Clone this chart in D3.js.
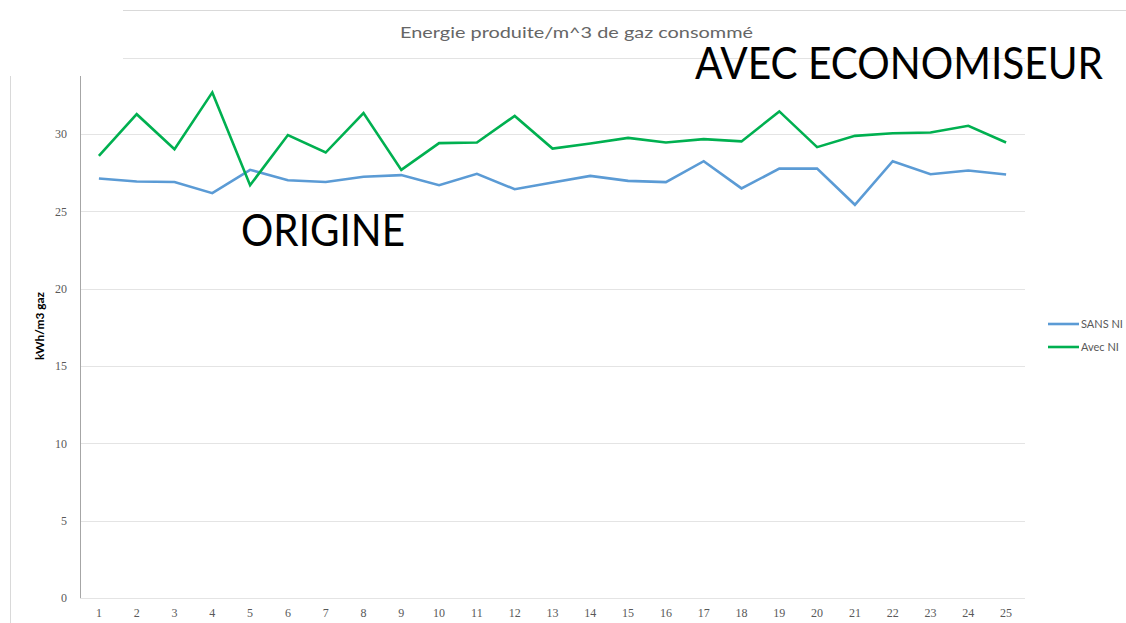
<!DOCTYPE html>
<html>
<head>
<meta charset="utf-8">
<script src="https://cdn.jsdelivr.net/npm/d3@7"></script>
<style>
  html, body { margin: 0; padding: 0; background: #fff; }
  svg { display: block; }
</style>
</head>
<body>
<svg id="chart" width="1126" height="623"></svg>
<script>
const categories = ["1","2","3","4","5","6","7","8","9","10","11","12","13","14","15","16","17","18","19","20","21","22","23","24","25"];
const sansNI = [27.13,26.94,26.90,26.18,27.69,27.02,26.90,27.24,27.35,26.70,27.43,26.44,26.87,27.30,26.98,26.90,28.25,26.49,27.77,27.77,25.43,28.25,27.41,27.65,27.39];
const avecNI = [28.60,31.29,29.03,32.70,26.70,29.94,28.81,31.36,27.69,29.42,29.46,31.18,29.07,29.40,29.76,29.46,29.68,29.53,31.47,29.16,29.89,30.06,30.11,30.54,29.46];
const yTicks = [0,5,10,15,20,25,30];
const seriesNames = ["SANS NI","Avec NI"];
const seriesColors = ["#5b9bd5","#00b050"];
const titleText = "Energie produite/m^3 de gaz consommé";
const yTitle = "kWh/m3 gaz";

(function(){
const svg = d3.select("#chart");
const pLeft = 80, pRight = 1025, pTop = 76, pBottom = 598;

const x = d3.scaleBand().domain(categories).range([pLeft, pRight]).padding(0);
const y = d3.scaleLinear().domain([0, 33.76]).range([pBottom, pTop]);

// outer decorative lines
svg.append("line").attr("x1",123).attr("x2",1126).attr("y1",10.5).attr("y2",10.5).attr("stroke","#d9d9d9").attr("stroke-width",1);
svg.append("line").attr("x1",123).attr("x2",1025).attr("y1",58.5).attr("y2",58.5).attr("stroke","#e3e3e3").attr("stroke-width",1);
svg.append("line").attr("x1",10.5).attr("x2",10.5).attr("y1",76).attr("y2",623).attr("stroke","#d9d9d9").attr("stroke-width",1);

// title
svg.append("text").attr("x",400).attr("y",38).attr("font-family","Lato, 'Open Sans', sans-serif")
  .attr("font-size",16).attr("fill","#666666").attr("textLength",353).attr("lengthAdjust","spacingAndGlyphs")
  .text(titleText);

// gridlines
svg.append("g").selectAll("line").data(yTicks).join("line")
  .attr("x1",pLeft).attr("x2",pRight)
  .attr("y1",d=>Math.round(y(d))+0.5).attr("y2",d=>Math.round(y(d))+0.5)
  .attr("stroke","#e4e4e4").attr("stroke-width",1);

// y axis
const yAxis = d3.axisLeft(y).tickValues(yTicks).tickSize(0).tickPadding(13);
const gy = svg.append("g").attr("transform",`translate(${pLeft},0)`).call(yAxis);
gy.select(".domain").remove();
gy.selectAll("text").attr("font-family","'Liberation Serif', serif").attr("font-size",12).attr("fill","#595959");
svg.append("line").attr("x1",pLeft+0.5).attr("x2",pLeft+0.5).attr("y1",pTop).attr("y2",pBottom)
  .attr("stroke","#a6a6a6").attr("stroke-width",1);

// x axis
const xAxis = d3.axisBottom(x).tickSize(0).tickPadding(10);
const gx = svg.append("g").attr("transform",`translate(0,${pBottom})`).call(xAxis);
gx.select(".domain").remove();
gx.selectAll("text").attr("font-family","'Liberation Serif', serif").attr("font-size",12).attr("fill","#595959");

// y title
svg.append("text").attr("transform","translate(44,326) rotate(-90)").attr("text-anchor","middle")
  .attr("font-family","Lato, 'Open Sans', sans-serif").attr("font-weight","bold").attr("font-size",11).attr("fill","#000")
  .attr("textLength",68).attr("lengthAdjust","spacingAndGlyphs")
  .text(yTitle);

// lines
const line = d3.line().x((d,i)=>x(categories[i]) + x.bandwidth()/2).y(d=>y(d));
[sansNI, avecNI].forEach((s,k)=>{
  svg.append("path").datum(s).attr("d",line).attr("fill","none")
    .attr("stroke",seriesColors[k]).attr("stroke-width",2.6).attr("stroke-linejoin","miter");
});

// legend
const leg = svg.append("g");
seriesNames.forEach((n,k)=>{
  const ly = 324 + k*23;
  leg.append("line").attr("x1",1048).attr("x2",1079).attr("y1",ly).attr("y2",ly)
    .attr("stroke",seriesColors[k]).attr("stroke-width",2.6);
  leg.append("text").attr("x",1081).attr("y",ly+4).attr("font-family","Lato, 'Open Sans', sans-serif")
    .attr("font-size",11).attr("fill","#595959").text(n);
});

// annotations
svg.append("text").attr("x",695).attr("y",79).attr("font-family","Lato, 'Open Sans', sans-serif")
  .attr("font-size",45).attr("fill","#000").attr("textLength",408).attr("lengthAdjust","spacingAndGlyphs")
  .text("AVEC ECONOMISEUR");
svg.append("text").attr("x",241).attr("y",246).attr("font-family","Lato, 'Open Sans', sans-serif")
  .attr("font-size",45).attr("fill","#000").attr("textLength",164).attr("lengthAdjust","spacingAndGlyphs")
  .text("ORIGINE");
})();
</script>
</body>
</html>
